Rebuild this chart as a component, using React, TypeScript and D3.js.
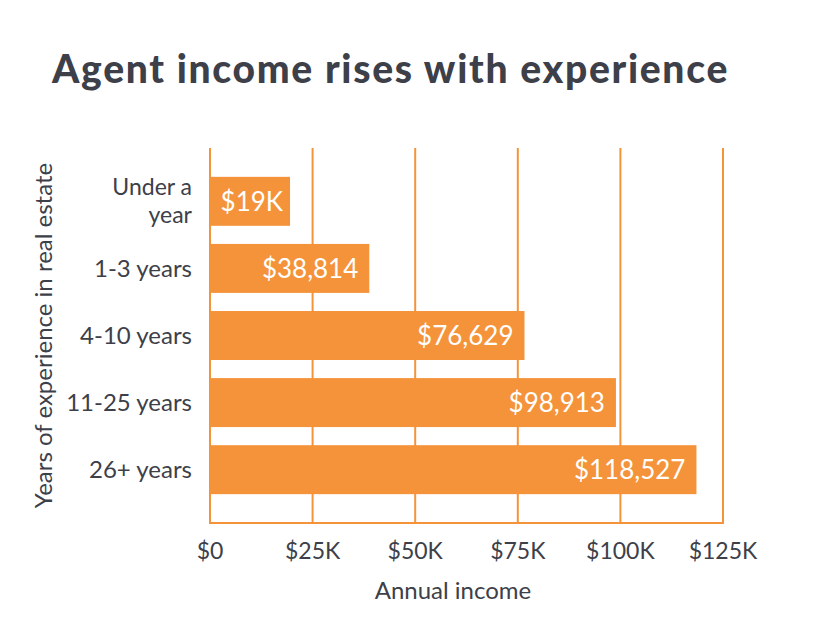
import React, { useEffect, useRef } from 'react';
import * as d3 from 'd3';

const categories = ['Under a|year', '1-3 years', '4-10 years', '11-25 years', '26+ years'];
const incomes = [19500, 38814, 76629, 98913, 118527];
const valueLabels = ['$19K', '$38,814', '$76,629', '$98,913', '$118,527'];
const tickValues = [0, 25000, 50000, 75000, 100000, 125000];
const tickLabels = ['$0', '$25K', '$50K', '$75K', '$100K', '$125K'];

const ORANGE = '#f5933a';
const TEXT = '#3d4049';
const FONT = 'Lato, "Open Sans", sans-serif';

const App: React.FC = () => {
  const ref = useRef<SVGSVGElement>(null);

  useEffect(() => {
    if (!ref.current) return;
    const svg = d3.select(ref.current);
    svg.selectAll('*').remove();

    const left = 210;
    const right = 723;
    const top = 148;
    const bottom = 523;

    const x = d3.scaleLinear().domain([0, 125000]).range([left, right]);
    const y = d3.scaleBand<number>()
      .domain(d3.range(categories.length))
      .range([top, bottom])
      .paddingInner(0.27)
      .paddingOuter(0.43);

    // title
    svg.append('text')
      .attr('x', 52)
      .attr('y', 83)
      .attr('fill', TEXT)
      .style('font-family', FONT)
      .style('font-weight', 900)
      .style('font-size', '39px')
      .style('letter-spacing', '1.7px')
      .text('Agent income rises with experience');

    // grid
    const g = svg.append('g');
    g.selectAll('line.grid')
      .data(tickValues)
      .enter().append('line')
        .attr('class', 'grid')
        .attr('x1', d => x(d))
        .attr('x2', d => x(d))
        .attr('y1', top)
        .attr('y2', bottom)
        .attr('stroke', ORANGE)
        .attr('stroke-width', 2);
    g.append('line')
      .attr('x1', left - 1)
      .attr('x2', right + 1)
      .attr('y1', bottom)
      .attr('y2', bottom)
      .attr('stroke', ORANGE)
      .attr('stroke-width', 2);

    // bars
    g.selectAll('rect.bar')
      .data(incomes)
      .enter().append('rect')
        .attr('class', 'bar')
        .attr('x', x(0))
        .attr('y', (_, i) => y(i)!)
        .attr('width', d => x(d) - x(0))
        .attr('height', y.bandwidth())
        .attr('fill', ORANGE);

    g.selectAll('text.val')
      .data(incomes)
      .enter().append('text')
        .attr('class', 'val')
        .attr('x', (d, i) => x(d) - (i === 0 ? 7 : 11))
        .attr('y', (_, i) => y(i)! + y.bandwidth() / 2)
        .attr('dy', '0.36em')
        .attr('text-anchor', 'end')
        .attr('fill', '#fff')
        .style('font-family', FONT)
        .style('font-size', '26px')
        .text((_, i) => valueLabels[i]);

    // category labels (one text element per line)
    categories.forEach((c, i) => {
      const lines = c.split('|');
      const cy = y(i)! + y.bandwidth() / 2;
      lines.forEach((ln, j) => {
        svg.append('text')
          .attr('x', 192)
          .attr('y', cy + (j - (lines.length - 1) / 2) * 28)
          .attr('dy', '0.35em')
          .attr('text-anchor', 'end')
          .attr('fill', TEXT)
          .style('font-family', FONT)
          .style('font-size', lines.length > 1 ? '23px' : '24px')
          .text(ln);
      });
    });

    // x ticks
    svg.selectAll('text.tick')
      .data(tickValues)
      .enter().append('text')
        .attr('class', 'tick')
        .attr('x', d => x(d))
        .attr('y', 559)
        .attr('text-anchor', 'middle')
        .attr('fill', TEXT)
        .style('font-family', FONT)
        .style('font-size', '23px')
        .text((_, i) => tickLabels[i]);

    svg.append('text')
      .attr('x', 453)
      .attr('y', 599)
      .attr('text-anchor', 'middle')
      .attr('fill', TEXT)
      .style('font-family', FONT)
      .style('font-size', '24px')
      .text('Annual income');

    svg.append('text')
      .attr('transform', `translate(52, ${(top + bottom) / 2}) rotate(-90)`)
      .attr('text-anchor', 'middle')
      .attr('fill', TEXT)
      .style('font-family', FONT)
      .style('font-size', '24px')
      .text('Years of experience in real estate');
  }, []);

  return (
    <svg ref={ref} width={830} height={642} viewBox="0 0 830 642"
      style={{ position: 'absolute', left: 0, top: 0, background: '#fff' }} />
  );
};

export default App;
